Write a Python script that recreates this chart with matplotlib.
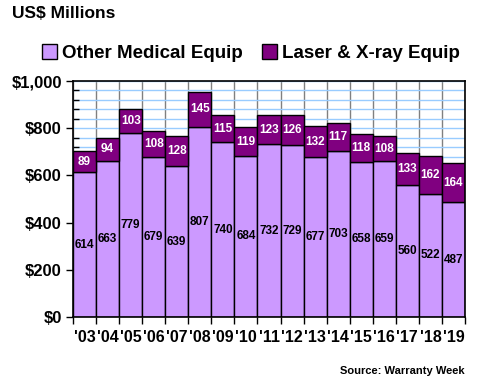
import matplotlib.pyplot as plt
import numpy as np
from matplotlib.patches import Patch

years = ["'03", "'04", "'05", "'06", "'07", "'08", "'09", "'10", "'11",
         "'12", "'13", "'14", "'15", "'16", "'17", "'18", "'19"]
other_medical = [614, 663, 779, 679, 639, 807, 740, 684, 732,
                 729, 677, 703, 658, 659, 560, 522, 487]
laser_xray = [89, 94, 103, 108, 128, 145, 115, 119, 123,
              126, 132, 117, 118, 108, 133, 162, 164]

light = '#CC99FF'
dark = '#800080'

plt.rcParams['font.family'] = ['Liberation Sans', 'DejaVu Sans']
plt.rcParams['font.weight'] = 'bold'

fig = plt.figure(figsize=(4.8, 3.8), dpi=100)
ax = fig.add_axes([73 / 480, 1 - 317 / 380, 392 / 480, 236 / 380])

x = np.arange(len(years))
ax.bar(x, other_medical, width=1.0, color=light, edgecolor='black', linewidth=1, zorder=2)
ax.bar(x, laser_xray, width=1.0, bottom=other_medical, color=dark, edgecolor='black',
       linewidth=1, zorder=2)

for i in range(len(years)):
    ax.text(x[i], other_medical[i] / 2, str(other_medical[i]), ha='center', va='center',
            fontsize=8.5, fontweight='bold', color='black', zorder=3)
    ax.text(x[i], other_medical[i] + laser_xray[i] / 2, str(laser_xray[i]), ha='center',
            va='center', fontsize=8.5, fontweight='bold', color='white', zorder=3)

ax.set_xlim(-0.5, len(years) - 0.5)
ax.set_ylim(0, 1000)

# y axis: major every 200 (outside), minor every 40 (inside), light blue grid
ax.set_yticks(np.arange(0, 1001, 200))
ax.set_yticklabels(['$0', '$200', '$400', '$600', '$800', '$1,000'])
ax.set_yticks(np.arange(0, 1001, 40), minor=True)
ax.tick_params(axis='y', which='major', direction='out', length=5, width=1,
               labelsize=12, pad=3)
ax.tick_params(axis='y', which='minor', direction='in', length=4, width=1)
ax.grid(axis='y', which='both', color='#99CCFF', linewidth=1, zorder=0)

# x axis: labels at centres, ticks and gray grid at bar boundaries
ax.set_xticks(x)
ax.set_xticklabels(years)
ax.set_xticks(np.arange(-0.5, len(years), 1), minor=True)
ax.tick_params(axis='x', which='major', length=0, labelsize=11.5, pad=9)
ax.tick_params(axis='x', which='minor', direction='out', length=5, width=1)
ax.grid(axis='x', which='minor', color='#808080', linewidth=1, zorder=0)
ax.set_axisbelow(True)

for s in ax.spines.values():
    s.set_linewidth(1.2)
    s.set_color('black')

fig.text(12 / 480, 1 - 13 / 380, 'US$ Millions', ha='left', va='center',
         fontsize=12.5, fontweight='bold')

handles = [Patch(facecolor=light, edgecolor='black', label='Other Medical Equip'),
           Patch(facecolor=dark, edgecolor='black', label='Laser & X-ray Equip')]
fig.legend(handles=handles, loc='center', bbox_to_anchor=(0.523, 1 - 53 / 380), ncol=2,
           frameon=False, prop={'size': 13.5, 'weight': 'bold'}, handlelength=0.8,
           handleheight=0.8, handletextpad=0.3, columnspacing=1.0, borderpad=0)

fig.text(465 / 480, 1 - 371 / 380, 'Source: Warranty Week', ha='right', va='center',
         fontsize=8, fontweight='bold')

fig.savefig('out.png', dpi=100)
